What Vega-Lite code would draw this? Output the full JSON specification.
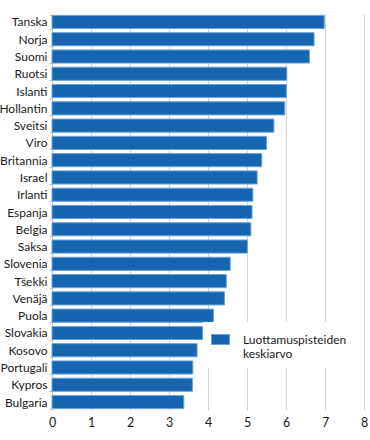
{
  "$schema": "https://vega.github.io/schema/vega-lite/v6.json",
  "autosize": {"type": "none"},
  "padding": {"left": 52, "top": 14, "right": 6, "bottom": 30},
  "width": 312,
  "height": 396,
  "background": "white",
  "config": {
    "font": "Lato",
    "view": {"stroke": null}
  },
  "data": {
    "values": [
      {"maa": "Tanska", "arvo": 6.98},
      {"maa": "Norja", "arvo": 6.72},
      {"maa": "Suomi", "arvo": 6.60},
      {"maa": "Ruotsi", "arvo": 6.02},
      {"maa": "Islanti", "arvo": 6.01},
      {"maa": "Hollantin", "arvo": 5.97},
      {"maa": "Sveitsi", "arvo": 5.69},
      {"maa": "Viro", "arvo": 5.50},
      {"maa": "Britannia", "arvo": 5.38},
      {"maa": "Israel", "arvo": 5.26},
      {"maa": "Irlanti", "arvo": 5.15},
      {"maa": "Espanja", "arvo": 5.13},
      {"maa": "Belgia", "arvo": 5.10},
      {"maa": "Saksa", "arvo": 5.01},
      {"maa": "Slovenia", "arvo": 4.57},
      {"maa": "Tšekki", "arvo": 4.47},
      {"maa": "Venäjä", "arvo": 4.42},
      {"maa": "Puola", "arvo": 4.14},
      {"maa": "Slovakia", "arvo": 3.86},
      {"maa": "Kosovo", "arvo": 3.72},
      {"maa": "Portugali", "arvo": 3.61},
      {"maa": "Kypros", "arvo": 3.60},
      {"maa": "Bulgaria", "arvo": 3.38}
    ]
  },
  "mark": {"type": "bar", "stroke": "#6aa3d8", "strokeWidth": 1},
  "encoding": {
    "y": {
      "field": "maa",
      "type": "nominal",
      "sort": null,
      "title": null,
      "scale": {"paddingInner": 0.24, "paddingOuter": 0.08},
      "axis": {
        "domainColor": "#bfbfbf",
        "tickColor": "#bfbfbf",
        "tickSize": 3,
        "tickBand": "extent",
        "labelPadding": 2,
        "labelFontSize": 12,
        "labelColor": "#1a1a1a",
        "grid": false
      }
    },
    "x": {
      "field": "arvo",
      "type": "quantitative",
      "title": null,
      "scale": {"domain": [0, 8], "nice": false},
      "axis": {
        "values": [0, 1, 2, 3, 4, 5, 6, 7, 8],
        "domain": false,
        "ticks": false,
        "grid": true,
        "gridColor": "#d4d4d4",
        "labelPadding": 6,
        "labelFontSize": 12.5,
        "labelColor": "#1a1a1a",
        "labelFlush": false
      }
    },
    "color": {
      "datum": "Luottamuspisteiden keskiarvo",
      "scale": {"range": ["#1565b0"]},
      "legend": {
        "title": null,
        "orient": "none",
        "legendX": 151,
        "legendY": 308,
        "padding": 8,
        "fillColor": "white",
        "symbolType": "M-1,-0.56H1V0.56H-1Z",
        "symbolSize": 324,
        "symbolStrokeColor": "#6aa3d8",
        "symbolStrokeWidth": 1,
        "symbolOpacity": 1,
        "labelFontSize": 12,
        "labelColor": "#1a1a1a",
        "labelOffset": 13,
        "labelBaseline": "middle",
        "labelExpr": "['Luottamuspisteiden', 'keskiarvo']",
        "labelLimit": 200,
        "encoding": {
          "labels": {"update": {"lineHeight": {"value": 14}}}
        }
      }
    }
  }
}
